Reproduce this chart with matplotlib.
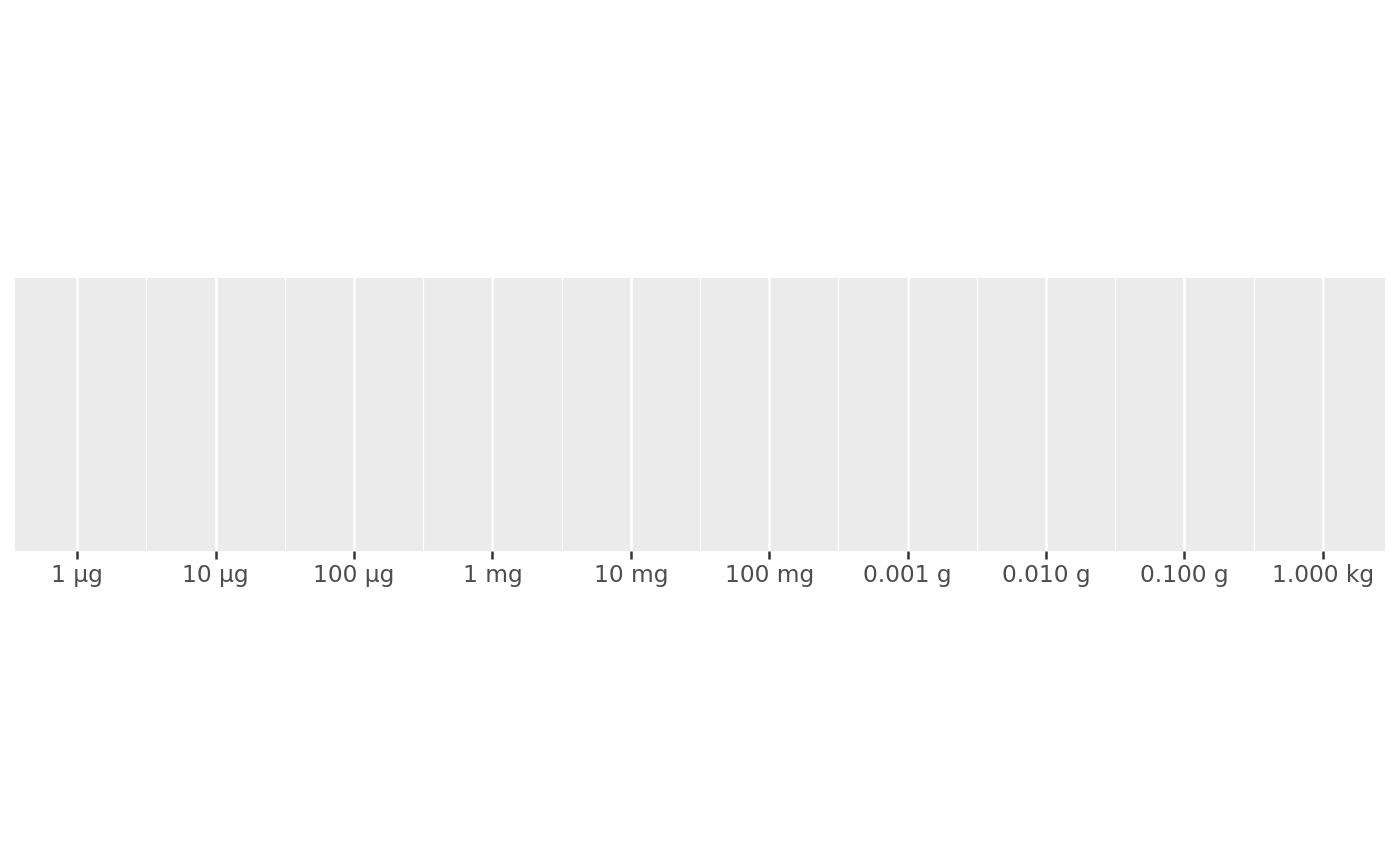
import numpy as np
import matplotlib.pyplot as plt

# mass breaks in grams and their labels as shown on the axis
BREAKS_G = [1e-6, 1e-5, 1e-4, 1e-3, 1e-2, 1e-1, 1e0, 1e1, 1e2, 1e3]
LABELS = ["1 µg", "10 µg", "100 µg", "1 mg", "10 mg", "100 mg",
          "0.001 g", "0.010 g", "0.100 g", "1.000 kg"]

fig = plt.figure(figsize=(14, 8.66), dpi=100)
ax = fig.add_axes([15 / 1400, 315 / 866, 1370 / 1400, 273 / 866])
ax.set_facecolor("#EBEBEB")

ax.set_xscale("log")
lo, hi = np.log10(BREAKS_G[0]), np.log10(BREAKS_G[-1])
pad = 0.05 * (hi - lo)
ax.set_xlim(10 ** (lo - pad), 10 ** (hi + pad))
ax.set_ylim(0, 1)

ax.set_xticks(BREAKS_G)
ax.set_xticklabels(LABELS)
minor = [10 ** (np.log10(a) + 0.5) for a in BREAKS_G[:-1]]
ax.set_xticks(minor, minor=True)
ax.xaxis.set_minor_formatter(plt.NullFormatter())

ax.grid(axis="x", which="major", color="white", linewidth=1.8)
ax.grid(axis="x", which="minor", color="white", linewidth=0.9)
ax.set_axisbelow(True)

ax.tick_params(axis="x", which="major", length=5.5, width=1.8, color="#333333",
               labelsize=16.8, labelcolor="#4D4D4D", pad=4)
ax.tick_params(axis="x", which="minor", length=0)
ax.set_yticks([])
for s in ax.spines.values():
    s.set_visible(False)

fig.savefig("out.png", dpi=100, facecolor="white")
